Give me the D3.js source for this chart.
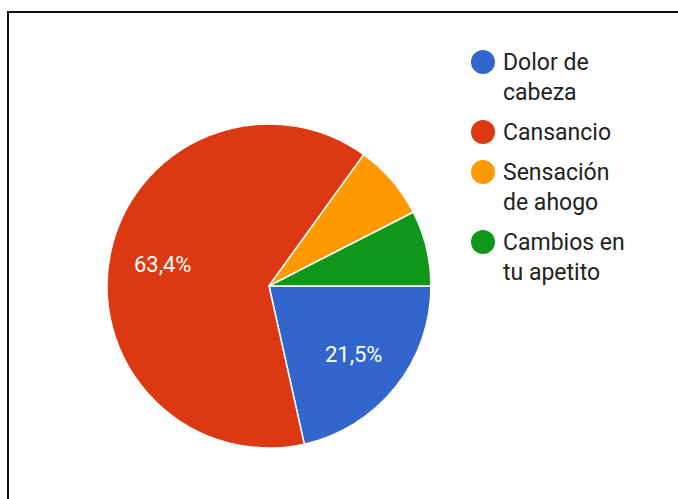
<!DOCTYPE html>
<html>
<head>
<meta charset="utf-8">
<script src="https://cdn.jsdelivr.net/npm/d3@7"></script>
<style>
  html, body { margin: 0; padding: 0; background: #fff; }
  svg { display: block; font-family: Roboto, "Noto Sans", Arial, sans-serif; }
</style>
</head>
<body>
<svg id="chart" width="678" height="499"></svg>
<script>
// Síntomas reportados (número de respuestas)
const categories = ["Dolor de cabeza", "Cansancio", "Sensación de ahogo", "Cambios en tu apetito"];
const legendLines = [["Dolor de", "cabeza"], ["Cansancio"], ["Sensación", "de ahogo"], ["Cambios en", "tu apetito"]];
const counts = [20, 59, 7, 7];
const colors = ["#3366cc", "#dc3912", "#ff9900", "#109618"];

const svg = d3.select("#chart");
const W = 678, H = 499;

// frame around the card
svg.append("path")
  .attr("d", `M8,${H} V12 H${W}`)
  .attr("fill", "none")
  .attr("stroke", "#111")
  .attr("stroke-width", 2);

const cx = 269, cy = 286, r = 162;
const total = d3.sum(counts);

const pie = d3.pie()
  .sort(null)
  .value(d => d)
  .startAngle(Math.PI / 2)
  .endAngle(Math.PI / 2 + 2 * Math.PI);

const arcs = pie(counts);
const arc = d3.arc().innerRadius(0).outerRadius(r);
const labelArc = d3.arc().innerRadius(r * 0.67).outerRadius(r * 0.67);

const g = svg.append("g").attr("transform", `translate(${cx},${cy})`);

g.selectAll("path.slice")
  .data(arcs)
  .join("path")
  .attr("class", "slice")
  .attr("d", arc)
  .attr("fill", (d, i) => colors[i])
  .attr("stroke", "#fff")
  .attr("stroke-width", 1.5)
  .attr("stroke-linejoin", "round");

const fmt = v => (Math.round(v * 1000) / 10).toFixed(1).replace(".", ",") + "%";

g.selectAll("text.pct")
  .data(arcs.filter(d => d.value / total >= 0.1))
  .join("text")
  .attr("class", "pct")
  .attr("transform", d => `translate(${labelArc.centroid(d)})`)
  .attr("text-anchor", "middle")
  .attr("dy", "0.36em")
  .attr("fill", "#fff")
  .attr("font-size", 22)
  .text(d => fmt(d.value / total));

// legend
const legend = svg.append("g").attr("transform", "translate(483,0)");
const lineH = 30, itemGap = 40;
let y = 70;
legendLines.forEach((lines, i) => {
  const item = legend.append("g");
  item.append("circle")
    .attr("cx", 0)
    .attr("cy", y - 8)
    .attr("r", 12)
    .attr("fill", colors[i]);
  const t = item.append("text")
    .attr("x", 20)
    .attr("y", y)
    .attr("fill", "#222")
    .attr("font-size", 23);
  lines.forEach((ln, j) => {
    t.append("tspan").attr("x", 20).attr("y", y + j * lineH).text(ln);
  });
  y += (lines.length - 1) * lineH + itemGap;
});
</script>
</body>
</html>
